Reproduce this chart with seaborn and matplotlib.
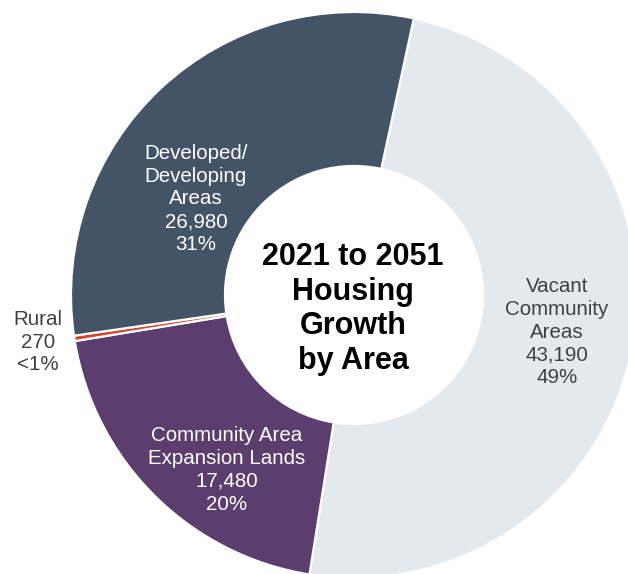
import matplotlib
matplotlib.use("Agg")
import matplotlib.pyplot as plt
import seaborn as sns

# ---- data ----
categories = ["Vacant\nCommunity\nAreas", "Community Area\nExpansion Lands", "Rural", "Developed/\nDeveloping\nAreas"]
values = [43190, 17480, 270, 26980]
pct_labels = ["49%", "20%", "<1%", "31%"]
colors = ["#e4e9ee", "#5c3e6e", "#d4452b", "#435466"]
text_colors = ["#404040", "white", "#404040", "white"]
center_title = "2021 to 2051\nHousing\nGrowth\nby Area"

sns.set_theme(style="white")
plt.rcParams["font.family"] = ["Liberation Sans", "DejaVu Sans"]

W, H = 628, 574
fig = plt.figure(figsize=(W / 100, H / 100), dpi=100)
ax = fig.add_axes([0, 0, 1, 1])

cx, cy = 354, H - 295
R = 283
ax.pie(values, colors=colors, startangle=77.8, counterclock=False,
       center=(cx, cy), radius=R, frame=True,
       wedgeprops=dict(width=R - 129, edgecolor="white", linewidth=1.6))
ax.set_xlim(0, W)
ax.set_ylim(0, H)
ax.set_aspect("equal")
ax.axis("off")

# label positions (pixel coords from top)
label_pos = [(557, 332), (227, 470), (38, 342), (196, 199)]
for cat, v, p, (x, y), tc in zip(categories, values, pct_labels, label_pos, text_colors):
    txt = f"{cat}\n{v:,}\n{p}"
    ax.text(x, H - y, txt, ha="center", va="center", fontsize=14.8, color=tc,
            linespacing=1.26, multialignment="center")

ax.text(353, H - 309, center_title, ha="center", va="center", fontsize=22,
        fontweight="bold", color="black", linespacing=1.2)

fig.savefig("out.png", dpi=100)
